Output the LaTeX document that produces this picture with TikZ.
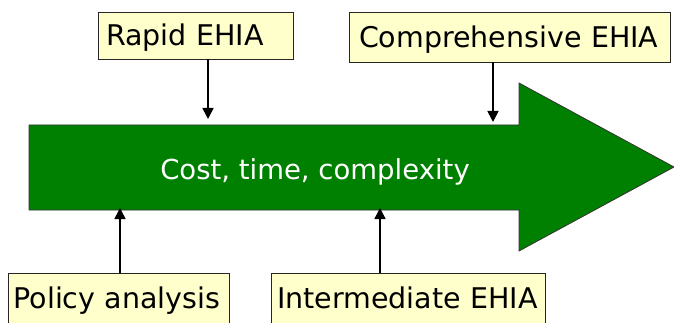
\documentclass[tikz,border=0pt]{standalone}
\usepackage{fontspec}
\setmainfont{DejaVu Sans}
\usetikzlibrary{positioning}
\usetikzlibrary{arrows.meta}
\definecolor{boxfill}{HTML}{FFFFCC}
\definecolor{flowgreen}{HTML}{008000}
\tikzset{stage/.style={draw=black!85,fill=boxfill,line width=0.9pt,inner xsep=8pt,inner ysep=0pt,
  align=left,font=\fontsize{28.5}{31}\selectfont,text height=20.8pt,text depth=0pt}}
\tikzset{pointer/.style={-{Triangle[width=11pt,length=11pt]},line width=1.6pt}}

\begin{document}
\begin{tikzpicture}[x=1pt,y=-1pt]
\useasboundingbox (0,0) rectangle (674,323);
\clip (0,0) rectangle (674,323);
% the big green arrow
\draw[fill=flowgreen,draw=black!80,line width=0.8pt] (29,125) -- (519,125) -- (519,83) -- (674,167)
  -- (519,251) -- (519,210) -- (29,210) -- cycle;
\node[text=white,font=\fontsize{27.5}{30}\selectfont,text height=20pt,text depth=0pt] (flow) at (315,170) {Cost, time, complexity};
% kinds of assessment
\node[stage,text width=179pt,minimum height=47pt] (rapid) at (195.5,35.5) {Rapid EHIA};
\node[stage,inner xsep=10pt,text width=301pt,minimum height=50pt] (comp) at (509.5,37) {Comprehensive EHIA};
\node[stage,inner xsep=5.5pt,text width=210pt,minimum height=50pt] (policy) at (118.5,298) {Policy analysis};
\node[stage,inner xsep=6pt,text width=262pt,minimum height=50pt] (inter) at (408,298) {Intermediate EHIA};
% where they sit on the arrow
\coordinate (r) at (208,119);
\coordinate (c) at (493,122);
\coordinate (p) at (120,208);
\coordinate (i) at (380,208);
\draw[pointer] (rapid.south -| r) -- (r);
\draw[pointer] (comp.south -| c) -- (c);
\draw[pointer] (policy.north -| p) -- (p);
\draw[pointer] (inter.north -| i) -- (i);
\end{tikzpicture}
\end{document}
